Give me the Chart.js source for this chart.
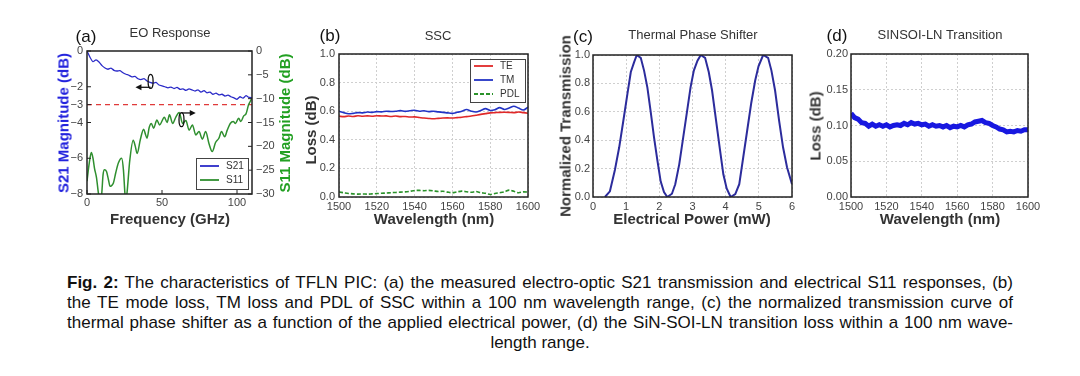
<!DOCTYPE html>
<html>
<head>
<meta charset="utf-8">
<script src="https://cdn.jsdelivr.net/npm/chart.js@4.4.0/dist/chart.umd.min.js"></script>
<style>
body { margin:0; background:#fff; width:1080px; height:376px; position:relative; overflow:hidden; font-family:"Liberation Sans", Arial, sans-serif; }
canvas { position:absolute; }
.t { position:absolute; white-space:nowrap; transform:translate(-50%,-50%); }
.lab { font-size:17px; color:#111; }
.ttl { font-size:13px; color:#333; }
.ax { font-size:15px; font-weight:bold; color:#333; }
.rot { transform:translate(-50%,-50%) rotate(-90deg); }
.cap { position:absolute; left:67px; width:946px; top:273px; font-size:17px; line-height:20px; color:#111; }
.cap div { white-space:nowrap; text-align:justify; text-align-last:justify; }
.cap div.last { text-align:center; text-align-last:center; }
</style>
</head>
<body>
<canvas id="cA" width="265" height="185" style="left:30px;top:40px"></canvas>
<canvas id="cB" width="245" height="185" style="left:300px;top:40px"></canvas>
<canvas id="cC" width="250" height="185" style="left:560px;top:40px"></canvas>
<canvas id="cD" width="235" height="185" style="left:812px;top:40px"></canvas>

<div class="t lab" style="left:86px;top:37px">(a)</div>
<div class="t ttl" style="left:170px;top:32px">EO Response</div>
<div class="t ax rot" style="left:63px;top:123px;color:#2222dd">S21 Magnitude (dB)</div>
<div class="t ax rot" style="left:284px;top:123px;color:#22a022">S11 Magnitude (dB)</div>
<div class="t ax" style="left:170px;top:218px">Frequency (GHz)</div>

<div class="t lab" style="left:330px;top:36px">(b)</div>
<div class="t ttl" style="left:438px;top:35px">SSC</div>
<div class="t ax rot" style="left:310px;top:130px">Loss (dB)</div>
<div class="t ax" style="left:434px;top:218px">Wavelength (nm)</div>

<div class="t lab" style="left:583px;top:37px">(c)</div>
<div class="t ttl" style="left:693px;top:34px">Thermal Phase Shifter</div>
<div class="t ax rot" style="left:565px;top:126px">Normalized Transmission</div>
<div class="t ax" style="left:692px;top:218px">Electrical Power (mW)</div>

<div class="t lab" style="left:837px;top:36px">(d)</div>
<div class="t ttl" style="left:940px;top:34px">SINSOI-LN Transition</div>
<div class="t ax rot" style="left:815px;top:126px">Loss (dB)</div>
<div class="t ax" style="left:940px;top:218px">Wavelength (nm)</div>

<div class="cap">
<div><b>Fig. 2:</b> The characteristics of TFLN PIC: (a) the measured electro-optic S21 transmission and electrical S11 responses, (b)</div>
<div>the TE mode loss, TM loss and PDL of SSC within a 100 nm wavelength range, (c) the normalized transmission curve of</div>
<div>thermal phase shifter as a function of the applied electrical power, (d) the SiN-SOI-LN transition loss within a 100 nm wave-</div>
<div class="last">length range.</div>
</div>

<script>
// (a) EO response
var s21Freq = [0,2,4,6,8,10,12,14,16,18, 20,22,24,26,28,30,32,34,36,38,
    40,42,44,46,48,50,52,54,56,58, 60,62,64,66,68,70,72,74,76,78,
    80,82,84,86,88,90,92,94,96,98, 100,102,104,106,108,110];
var s21Val = [0,-0.35,-0.6,-0.5,-0.62,-0.82,-0.95,-1.02,-0.96,-1.08,
    -1.12,-1.1,-1.22,-1.3,-1.36,-1.45,-1.42,-1.55,-1.6,-1.55,
    -1.68,-1.75,-1.8,-1.76,-1.9,-1.95,-2.0,-2.06,-2.02,-2.1,
    -2.04,-2.14,-2.12,-2.2,-2.12,-2.18,-2.24,-2.17,-2.3,-2.22,
    -2.34,-2.3,-2.42,-2.36,-2.46,-2.42,-2.52,-2.47,-2.56,-2.62,
    -2.7,-2.56,-2.64,-2.5,-2.6,-2.62];
var s11Freq = [0,1.5,2.9,4.0,5.0,6.3,7.7,8.8,9.8,10.7, 11.6,13.0,14.3,15.4,16.5,17.6,19.2,20.9,23.1,24.3,
    25.2,25.8,26.6,28.5,30.8,32.2,33.4,35.6,37.8,39.0, 40.0,41.5,42.9,44.4,46.6,48.4,51.6,53.4,55.0,57.1,
    59.3,61.5,63.7,65.9,68.1,70.3,72.5,74.7,76.9,79.1, 81.3,83.5,85.7,87.9,89.7,91.8,93.5,95.5,97.5,99.0,
    101.1,102.5,104.5,106.0,107.7,108.8,110];
var s11Val = [-27.3,-23.5,-21.3,-22.5,-24.6,-26.5,-30,-31.5,-30,-26, -24.9,-25.3,-27,-28.4,-28.2,-27.7,-25.5,-23.5,-22.5,-25,
    -29.5,-31.5,-30,-23,-18.7,-20,-21.5,-18.5,-16.4,-17.5, -18.3,-16,-15.2,-16.2,-14.5,-15.5,-13.9,-15,-13.4,-15.2,
    -13.8,-12.9,-15.2,-14.6,-16.6,-15.5,-17.6,-16.9,-18.5,-16.9, -19.4,-21.1,-19.2,-18.3,-16.9,-18,-16.6,-15.2,-14.8,-15.2,
    -14.1,-14.8,-13.6,-13.2,-11.3,-10.6,-9.8];
var s21Ticks = [0,-2,-3,-4,-6,-8];
var s11Ticks = [0,-5,-10,-15,-20,-25,-30];
var freqTicks = [0,50,100];
var cutoffFreq = [0,110];
var cutoffVal = [-3,-3];

// (b) SSC
var sscWl = [1500,1502.5,1505,1507.5,1510,1512.5,1515,1517.5,1520,1522.5,1525,1527.5,1530,1532.5,1535,1537.5,
    1540,1542.5,1545,1547.5,1550,1552.5,1555,1557.5,1560,1562.5,1565,1567.5,1570,1572.5,1575,1577.5,
    1580,1582.5,1585,1587.5,1590,1592.5,1595,1597.5,1600];
var teLoss = [0.565,0.562,0.566,0.563,0.568,0.565,0.567,0.565,0.568,0.566,0.567,0.563,0.566,0.562,0.563,0.559,
    0.560,0.556,0.552,0.549,0.547,0.550,0.552,0.553,0.552,0.555,0.558,0.562,0.566,0.572,0.578,0.583,
    0.588,0.590,0.592,0.593,0.592,0.590,0.594,0.590,0.586];
var tmLoss = [0.600,0.590,0.582,0.585,0.590,0.588,0.594,0.592,0.597,0.595,0.600,0.598,0.600,0.604,0.599,0.603,
    0.607,0.600,0.603,0.597,0.600,0.595,0.592,0.588,0.585,0.592,0.600,0.612,0.600,0.594,0.605,0.618,
    0.605,0.610,0.625,0.612,0.622,0.635,0.622,0.608,0.628];
var pdl = [0.035,0.030,0.025,0.022,0.020,0.021,0.020,0.022,0.024,0.026,0.028,0.030,0.032,0.034,0.036,0.040,
    0.046,0.046,0.044,0.046,0.043,0.038,0.040,0.034,0.030,0.036,0.041,0.037,0.033,0.038,0.030,0.026,
    0.018,0.025,0.030,0.036,0.048,0.040,0.030,0.036,0.034];

// (c) thermal phase shifter
var heaterPower = [0.36,0.51,0.66,0.79,0.91,1.04,1.14,1.24,1.32,1.44, 1.54,1.64,1.74,1.84,1.94,2.04,2.14,2.24,2.38,2.48,
    2.6,2.72,2.84,2.94,3.04,3.15,3.25,3.38,3.49,3.59, 3.71,3.83,3.93,4.03,4.15,4.29,4.41,4.53,4.65,4.77,
    4.89,4.99,5.13,5.28,5.38,5.49,5.61,5.73,5.85,6.0];
var normTrans = [0,0.04,0.19,0.35,0.53,0.73,0.88,0.95,1.0,0.98, 0.89,0.77,0.6,0.42,0.26,0.11,0.035,0,0.023,0.09,
    0.23,0.42,0.61,0.77,0.89,0.96,1.0,0.98,0.88,0.75, 0.54,0.33,0.16,0.06,0,0.02,0.09,0.28,0.47,0.66,
    0.82,0.92,1.0,0.98,0.89,0.75,0.54,0.35,0.21,0.09];

// (d) SiN-SOI-LN transition
var transWl = [1500,1502,1504,1506,1508,1510,1512,1514,1516,1518, 1520,1522,1524,1526,1528,1530,1532,1534,1536,1538,
    1540,1542,1544,1546,1548,1550,1552,1554,1556,1558, 1560,1562,1564,1566,1568,1570,1572,1574,1576,1578,
    1580,1582,1584,1586,1588,1590,1592,1594,1596,1598,1600];
var transLoss = [0.117,0.111,0.109,0.104,0.103,0.099,0.102,0.099,0.101,0.099, 0.101,0.098,0.100,0.101,0.100,0.103,0.101,0.104,0.102,0.103,
    0.101,0.102,0.099,0.101,0.099,0.100,0.098,0.100,0.097,0.099, 0.098,0.100,0.098,0.101,0.102,0.105,0.106,0.107,0.104,0.103,
    0.100,0.098,0.095,0.094,0.091,0.092,0.091,0.093,0.092,0.094,0.094];

Chart.defaults.font.family = '"Liberation Sans", Arial, sans-serif';
Chart.defaults.font.size = 11;
Chart.defaults.color = '#444';

const pts = (xs, ys) => xs.map((x, i) => ({x: x, y: ys[i]}));
const minus = v => v < 0 ? '\u2212' + Math.abs(v) : '' + v;
const plain = v => '' + v;

// black box round the plot area, with optional short inward ticks
const framePlugin = {
    id: 'frame',
    afterDraw(chart, args, o) {
        const a = chart.chartArea, ctx = chart.ctx;
        ctx.save();
        ctx.strokeStyle = '#222';
        ctx.lineWidth = 1.5;
        ctx.strokeRect(a.left, a.top, a.right - a.left, a.bottom - a.top);
        if (o.inTicks) {
            ctx.lineWidth = 1;
            Object.values(chart.scales).forEach(s => {
                s.ticks.forEach(t => {
                    const p = s.getPixelForValue(t.value);
                    ctx.beginPath();
                    if (s.isHorizontal()) {
                        ctx.moveTo(p, a.bottom); ctx.lineTo(p, a.bottom - 4);
                    } else if (s.position === 'left') {
                        ctx.moveTo(a.left, p); ctx.lineTo(a.left + 4, p);
                    } else {
                        ctx.moveTo(a.right, p); ctx.lineTo(a.right - 4, p);
                    }
                    ctx.stroke();
                });
            });
        }
        ctx.restore();
    }
};

// matplotlib style legend box inside the plot
const boxLegend = {
    id: 'boxLegend',
    afterDraw(chart, args, o) {
        if (!o.items) return;
        const a = chart.chartArea, ctx = chart.ctx;
        const x = a.right - o.right - o.w;
        const y = o.top != null ? a.top + o.top : a.bottom - o.bottom - o.h;
        ctx.save();
        ctx.fillStyle = '#fff';
        ctx.fillRect(x, y, o.w, o.h);
        ctx.strokeStyle = '#444';
        ctx.lineWidth = 1;
        ctx.strokeRect(x + 0.5, y + 0.5, o.w, o.h);
        ctx.font = '10px "Liberation Sans", Arial';
        ctx.textBaseline = 'middle';
        o.items.forEach((name, i) => {
            const ds = chart.data.datasets.find(d => d.label === name);
            const ly = y + o.pad + i * o.gap;
            ctx.strokeStyle = ds.borderColor;
            ctx.lineWidth = 1.8;
            ctx.setLineDash(ds.borderDash || []);
            ctx.beginPath();
            ctx.moveTo(x + 4, ly);
            ctx.lineTo(x + 23, ly);
            ctx.stroke();
            ctx.setLineDash([]);
            ctx.fillStyle = '#333';
            ctx.fillText(name, x + 30, ly);
        });
        ctx.restore();
    }
};

// ellipse + arrow that says which axis a curve belongs to
const axisMarks = {
    id: 'axisMarks',
    afterDatasetsDraw(chart, args, o) {
        if (!o.list) return;
        const ctx = chart.ctx, xs = chart.scales.x;
        ctx.save();
        ctx.strokeStyle = '#111';
        ctx.fillStyle = '#111';
        ctx.lineWidth = 1.3;
        o.list.forEach(m => {
            const ys = chart.scales[m.axis];
            const cx = xs.getPixelForValue(m.x), cy = ys.getPixelForValue(m.y);
            ctx.beginPath();
            ctx.ellipse(cx, cy, 2.5, 7, 0, 0, Math.PI * 2);
            ctx.stroke();
            const ay = ys.getPixelForValue(m.ay), ex = xs.getPixelForValue(m.ax);
            const d = Math.sign(ex - cx);
            ctx.beginPath();
            ctx.moveTo(cx, ay);
            ctx.lineTo(ex - d * 4, ay);
            ctx.stroke();
            ctx.beginPath();
            ctx.moveTo(ex, ay);
            ctx.lineTo(ex - d * 6, ay - 3);
            ctx.lineTo(ex - d * 6, ay + 3);
            ctx.closePath();
            ctx.fill();
        });
        ctx.restore();
    }
};

const gridOpts = {color: '#cfcfcf', lineWidth: 1, drawTicks: false, borderDash: [2, 2]};
const noGrid = {display: false, drawTicks: false};
const borderOpts = {display: false, dash: [2, 2]};

function baseOptions(pad, xAxisH, scales, plugins) {
    scales.x.afterFit = s => { s.height = xAxisH; };
    return {
        responsive: false,
        animation: false,
        devicePixelRatio: 1,
        layout: {padding: pad},
        elements: {point: {radius: 0}},
        plugins: Object.assign({legend: {display: false}, tooltip: {enabled: false}}, plugins || {}),
        scales: scales
    };
}

new Chart('cA', {
    type: 'line',
    data: {
        datasets: [
            {label: 'S21', data: pts(s21Freq, s21Val), yAxisID: 'yL', borderColor: '#2b2bc8', borderWidth: 1.3, tension: 0.2},
            {label: 'S11', data: pts(s11Freq, s11Val), yAxisID: 'yR', borderColor: '#2f8f2f', borderWidth: 1.5, cubicInterpolationMode: 'monotone'},
            {label: '-3 dB', data: pts(cutoffFreq, cutoffVal), yAxisID: 'yL', borderColor: '#e03a3a', borderWidth: 1.4, borderDash: [5, 4]}
        ]
    },
    options: baseOptions({top: 11, left: 0, right: 0, bottom: 0}, 31, {
        x: {type: 'linear', min: 0, max: 110, grid: noGrid, border: {display: false},
            afterBuildTicks: s => { s.ticks = freqTicks.map(v => ({value: v})); },
            ticks: {padding: 2, maxRotation: 0, callback: plain}},
        yL: {type: 'linear', position: 'left', min: -8, max: 0, grid: noGrid, border: {display: false},
            afterFit: s => { s.width = 57; },
            afterBuildTicks: s => { s.ticks = s21Ticks.map(v => ({value: v})); },
            ticks: {padding: 4, callback: minus}},
        yR: {type: 'linear', position: 'right', min: -30, max: 0, grid: noGrid, border: {display: false},
            afterFit: s => { s.width = 43; },
            afterBuildTicks: s => { s.ticks = s11Ticks.map(v => ({value: v})); },
            ticks: {padding: 4, callback: minus}}
    }, {
        frame: {inTicks: true},
        boxLegend: {items: ['S21', 'S11'], right: 4, bottom: 5, w: 52, h: 31, pad: 8, gap: 14},
        axisMarks: {list: [
            {axis: 'yL', x: 42.4, y: -1.7, ax: 32.3, ay: -2.03},
            {axis: 'yR', x: 63, y: -14.4, ax: 72.5, ay: -13}
        ]}
    }),
    plugins: [framePlugin, boxLegend, axisMarks]
});

new Chart('cB', {
    type: 'line',
    data: {
        datasets: [
            {label: 'TE', data: pts(sscWl, teLoss), borderColor: '#e02828', borderWidth: 1.6, tension: 0.3},
            {label: 'TM', data: pts(sscWl, tmLoss), borderColor: '#2233c4', borderWidth: 1.6, tension: 0.3},
            {label: 'PDL', data: pts(sscWl, pdl), borderColor: '#2a922a', borderWidth: 1.6, borderDash: [4, 2], tension: 0.3}
        ]
    },
    options: baseOptions({top: 14, left: 0, right: 17, bottom: 0}, 28, {
        x: {type: 'linear', min: 1500, max: 1600, grid: gridOpts, border: borderOpts,
            ticks: {stepSize: 20, padding: 3, maxRotation: 0, callback: plain}},
        y: {type: 'linear', min: 0, max: 1, grid: gridOpts, border: borderOpts,
            afterFit: s => { s.width = 39; },
            ticks: {stepSize: 0.2, padding: 4, callback: v => v.toFixed(1)}}
    }, {
        boxLegend: {items: ['TE', 'TM', 'PDL'], right: 3, top: 5, w: 55, h: 43, pad: 7, gap: 14}
    }),
    plugins: [framePlugin, boxLegend]
});

new Chart('cC', {
    type: 'line',
    data: {
        datasets: [
            {label: 'Transmission', data: pts(heaterPower, normTrans), borderColor: '#2c2c9c', borderWidth: 2}
        ]
    },
    options: baseOptions({top: 15, left: 0, right: 18, bottom: 0}, 28, {
        x: {type: 'linear', min: 0, max: 6, grid: gridOpts, border: borderOpts,
            ticks: {stepSize: 1, padding: 3, maxRotation: 0, callback: plain}},
        y: {type: 'linear', min: 0, max: 1, grid: gridOpts, border: borderOpts,
            afterFit: s => { s.width = 33; },
            ticks: {stepSize: 0.2, padding: 3, callback: v => v.toFixed(1)}}
    }),
    plugins: [framePlugin]
});

new Chart('cD', {
    type: 'line',
    data: {
        datasets: [
            {label: 'Loss', data: pts(transWl, transLoss), borderColor: '#1818e0', borderWidth: 5}
        ]
    },
    options: baseOptions({top: 14, left: 0, right: 19, bottom: 0}, 28, {
        x: {type: 'linear', min: 1500, max: 1600, grid: gridOpts, border: borderOpts,
            ticks: {stepSize: 20, padding: 3, maxRotation: 0, callback: plain}},
        y: {type: 'linear', min: 0, max: 0.2, grid: gridOpts, border: borderOpts,
            afterFit: s => { s.width = 39; },
            ticks: {stepSize: 0.05, padding: 3, callback: v => v.toFixed(2)}}
    }),
    plugins: [framePlugin]
});
</script>
</body>
</html>
